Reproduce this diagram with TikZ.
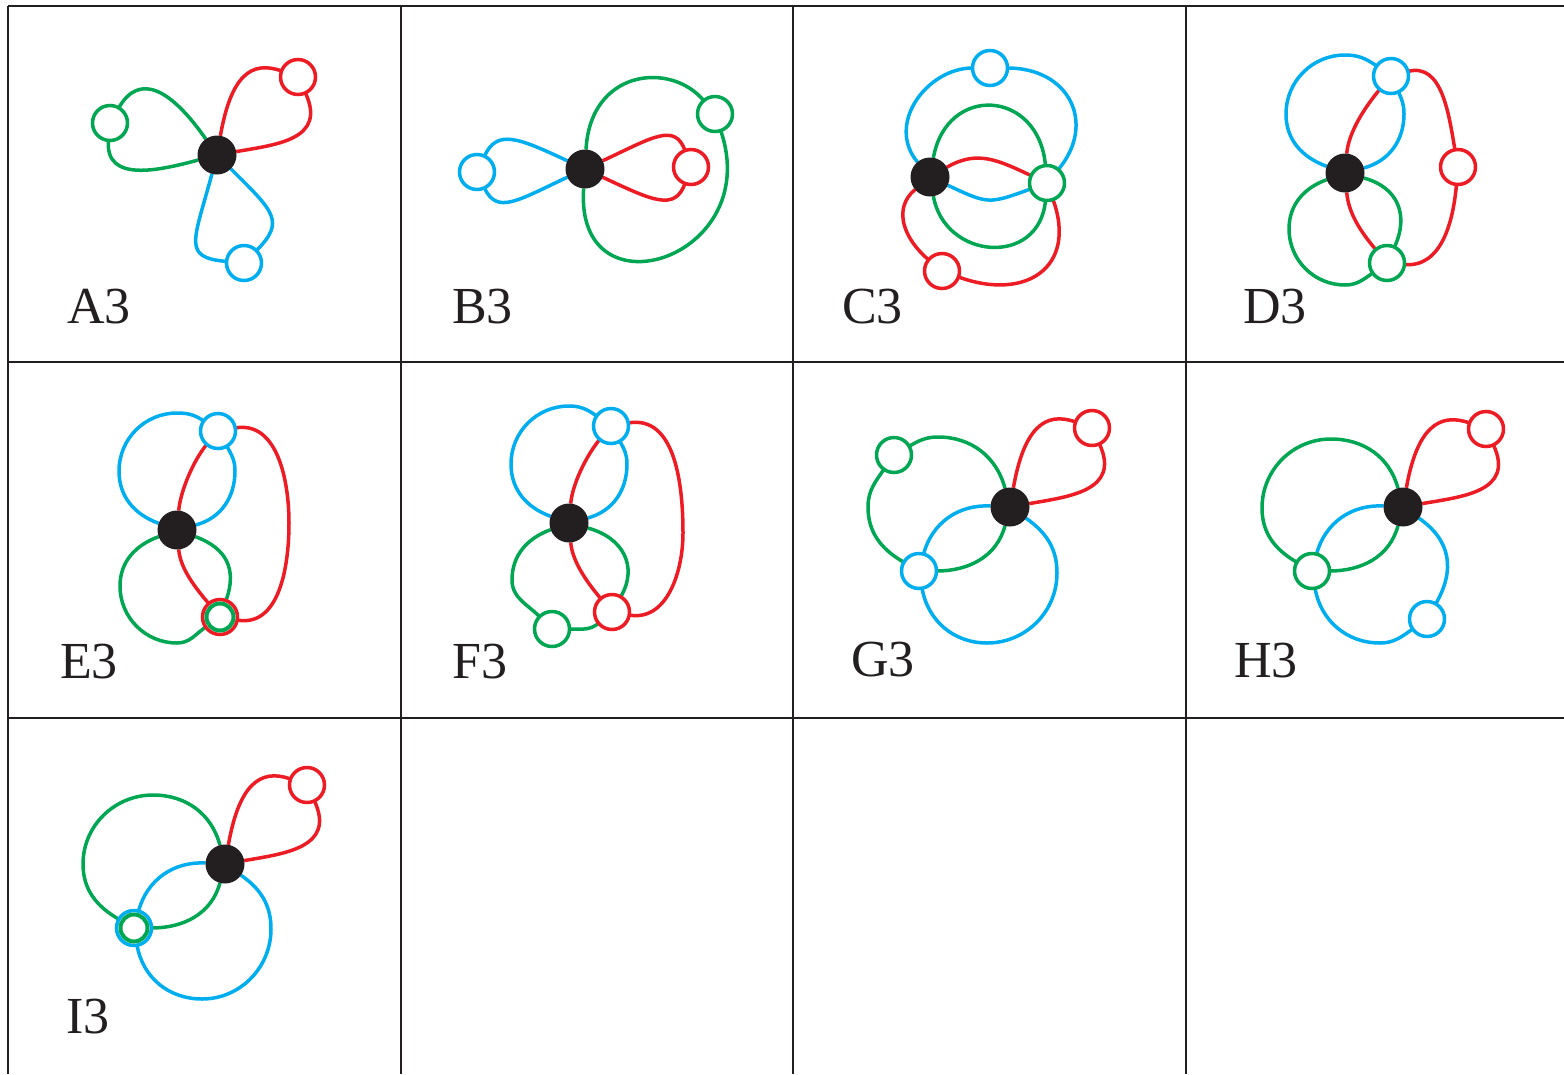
\documentclass[tikz,border=0pt]{standalone}
\usepackage{fontspec}
\setmainfont{Liberation Serif}
\usetikzlibrary{backgrounds}
\definecolor{cred}{HTML}{ED1C24}
\definecolor{cgreen}{HTML}{00A651}
\definecolor{cblue}{HTML}{00AEEF}
\definecolor{ink}{HTML}{231F20}

\begin{document}
\begin{tikzpicture}[x=1pt, y=1pt,
   hub/.style={circle,fill=ink,minimum size=39pt,inner sep=0pt,outer sep=0pt},
   site/.style={circle,draw=#1,fill=white,line width=3.5pt,minimum size=35pt,inner sep=0pt,outer sep=0pt},
   ring/.style={circle,draw=#1,fill=white,line width=4pt,minimum size=27pt,inner sep=0pt,outer sep=0pt},
   rd/.style={cred,line width=3.5pt},
   gn/.style={cgreen,line width=3.5pt},
   bl/.style={cblue,line width=3.5pt},
   gridline/.style={ink,line width=2pt},
   tag/.style={anchor=base west,inner sep=0pt,text=ink,font=\fontsize{52}{60}\selectfont}]
  \useasboundingbox (0,0) rectangle (1564,-1074);

  % A3
  \node[hub] (hA) at (217,-155) {};
  \node[site=cgreen] (gA) at (110,-123) {};
  \node[site=cred] (rA) at (298,-77) {};
  \node[site=cblue] (bA) at (244,-263) {};
  \node[tag] (tA) at (67,-323) {A3};
  % B3
  \node[hub] (hB) at (585,-169) {};
  \node[site=cblue] (bB) at (477,-172) {};
  \node[site=cred] (rB) at (691,-167) {};
  \node[site=cgreen] (gB) at (715,-114) {};
  \node[tag] (tB) at (452,-323) {B3};
  % C3
  \node[hub] (hC) at (930,-177) {};
  \node[site=cblue] (bC) at (990,-68) {};
  \node[site=cgreen] (gC) at (1047,-183) {};
  \node[site=cred] (rC) at (942,-271) {};
  \node[tag] (tC) at (842,-323) {C3};
  % D3
  \node[hub] (hD) at (1345,-173) {};
  \node[site=cblue] (bD) at (1391,-76) {};
  \node[site=cred] (rD) at (1458,-167) {};
  \node[site=cgreen] (gD) at (1387,-263) {};
  \node[tag] (tD) at (1243,-323) {D3};
  % E3
  \node[hub] (hE) at (177,-530) {};
  \node[site=cblue] (bE) at (218,-431) {};
  \node[site=cred] (dE) at (220,-617) {};
  \node[ring=cgreen] (dE2) at (dE) {};
  \node[tag] (tE) at (60,-678) {E3};
  % F3
  \node[hub] (hF) at (569,-523) {};
  \node[site=cblue] (bF) at (611,-426) {};
  \node[site=cred] (rF) at (612,-612) {};
  \node[site=cgreen] (gF) at (552,-629) {};
  \node[tag] (tF) at (452,-678) {F3};
  % G3
  \node[hub] (hG) at (1010,-507) {};
  \node[site=cred] (rG) at (1092,-428) {};
  \node[site=cgreen] (gG) at (894,-455) {};
  \node[site=cblue] (bG) at (919,-571) {};
  \node[tag] (tG) at (851,-676) {G3};
  % H3
  \node[hub] (hH) at (1403,-507) {};
  \node[site=cred] (rH) at (1486,-429) {};
  \node[site=cgreen] (gH) at (1312,-571) {};
  \node[site=cblue] (bH) at (1427,-619) {};
  \node[tag] (tH) at (1234,-677) {H3};
  % I3
  \node[hub] (hI) at (225,-864) {};
  \node[site=cred] (rI) at (307,-785) {};
  \node[site=cblue] (dI) at (134,-928) {};
  \node[ring=cgreen] (dI2) at (dI) {};
  \node[tag] (tI) at (66,-1033) {I3};

  \begin{scope}[on background layer]
    % table
    \draw[gridline] (8,-6) -- (1564,-6);
    \draw[gridline] (8,-362) -- (1564,-362);
    \draw[gridline] (8,-718) -- (1564,-718);
    \draw[gridline] (8,-6) -- (8,-1074);
    \draw[gridline] (401,-6) -- (401,-1074);
    \draw[gridline] (793,-6) -- (793,-1074);
    \draw[gridline] (1186,-6) -- (1186,-1074);

    % A3
    \draw[gn] (hA) to[out=125,in=60,out distance=60,in distance=42] (gA) to[out=-95,in=195,out distance=43,in distance=40] (hA);
    \draw[rd] (hA) to[out=80,in=160,out distance=60,in distance=33] (rA) to[out=-65,in=10,out distance=52,in distance=40] (hA);
    \draw[bl] (hA) to[out=-45,in=45,out distance=60,in distance=42] (bA) to[out=175,in=-105,out distance=45,in distance=70] (hA);
    % B3
    \draw[bl] (hB) to[out=155,in=65,out distance=55,in distance=30] (bB) to[out=-65,in=205,out distance=30,in distance=55] (hB);
    \draw[rd] (hB) to[out=25,in=110,out distance=55,in distance=30] (rB) to[out=-110,in=-25,out distance=30,in distance=55] (hB);
    \draw[gn] (hB) to[out=87,in=130,out distance=80,in distance=52] (gB) to[out=-71,in=-94,out distance=136,in distance=131] (hB);
    % C3
    \draw[bl] (hC) to[out=130,in=180,out distance=50,in distance=45] (bC) to[out=0,in=50,out distance=62,in distance=60] (gC) to[out=200,in=-25,distance=45] (hC);
    \draw[gn] (hC) to[out=80,in=95,out distance=75,in distance=77] (gC) to[out=-95,in=-80,out distance=67,in distance=65] (hC);
    \draw[rd] (hC) to[out=30,in=155,out distance=35,in distance=37] (gC) to[out=-70,in=-20,distance=72] (rC) to[out=140,in=220,out distance=32,in distance=30] (hC);
    % D3
    \draw[bl] (hD) to[out=160,in=-90] (1286,-114) to[out=90,in=180] (1345,-55) to[out=0,in=145] (bD) to[out=-65,in=90] (1404,-114) to[out=-90,in=15] (hD);
    \draw[gn] (hD) to[out=200,in=90] (1289,-229) to[out=-90,in=180] (1345,-285) to[out=0,in=-145] (gD) to[out=65,in=-15,looseness=1.2] (hD);
    \draw[rd] (hD) to[out=85,in=-130,distance=22] (bD) to[out=15,in=100] (rD) to[out=-95,in=-5] (gD) to[out=130,in=-85,distance=22] (hD);
    % E3
    \draw[bl] (hE) to[out=160,in=-90] (119,-471) to[out=90,in=180] (177,-413) to[out=0,in=145] (bE) to[out=-60,in=90] (235,-471) to[out=-90,in=15] (hE);
    \draw[gn] (hE) to[out=200,in=90] (120,-586) to[out=-90,in=180] (177,-643) to[out=0,in=-145] (dE) to[out=70,in=-20,looseness=1.2] (hE);
    \draw[rd] (hE) to[out=85,in=-130,distance=20] (bE) to[out=10,in=90] (289,-523) to[out=-90,in=-10] (dE) to[out=130,in=-85,distance=20] (hE);
    % F3
    \draw[bl] (hF) to[out=160,in=-90] (511,-464) to[out=90,in=180] (569,-406) to[out=0,in=145] (bF) to[out=-60,in=90] (627,-464) to[out=-90,in=15] (hF);
    \draw[gn] (hF) to[out=200,in=90] (512,-580) to[out=-90,in=135] (gF) to[out=0,in=-140] (rF) to[out=60,in=-15,looseness=1.2] (hF);
    \draw[rd] (hF) to[out=85,in=-130,distance=20] (bF) to[out=10,in=90] (683,-533) to[out=-90,in=-10] (rF) to[out=130,in=-85,distance=20] (hF);
    % G3
    \draw[rd] (hG) to[out=80,in=160,out distance=60,in distance=33] (rG) to[out=-65,in=10,out distance=52,in distance=40] (hG);
    \draw[gn] (hG) to[out=105,in=0] (938,-437) to[out=180,in=30] (gG) to[out=-125,in=90] (868,-507) to[out=-90,in=150] (bG) to[out=0,in=-105] (hG);
    \draw[bl] (hG) to[out=177,in=75] (bG) to[out=-80,in=180] (987,-643) to[out=0,in=-90] (1057,-573) to[out=90,in=-35] (hG);
    % H3
    \draw[rd] (hH) to[out=80,in=160,out distance=60,in distance=33] (rH) to[out=-65,in=10,out distance=52,in distance=40] (hH);
    \draw[gn] (hH) to[out=105,in=0] (1331,-439) to[out=180,in=90] (1262,-508) to[out=-90,in=150] (gH) to[out=0,in=-105] (hH);
    \draw[bl] (hH) to[out=177,in=75] (gH) to[out=-80,in=180] (1380,-643) to[out=0,in=-145] (bH) to[out=60,in=-35,looseness=1.15] (hH);
    % I3
    \draw[rd] (hI) to[out=80,in=160,out distance=60,in distance=33] (rI) to[out=-65,in=10,out distance=52,in distance=40] (hI);
    \draw[gn] (hI) to[out=105,in=0] (153,-795) to[out=180,in=90] (83,-864) to[out=-90,in=150] (dI) to[out=0,in=-105] (hI);
    \draw[bl] (hI) to[out=177,in=75] (dI) to[out=-80,in=180] (202,-999) to[out=0,in=-90] (271,-929) to[out=90,in=-35] (hI);
  \end{scope}
\end{tikzpicture}
\end{document}
